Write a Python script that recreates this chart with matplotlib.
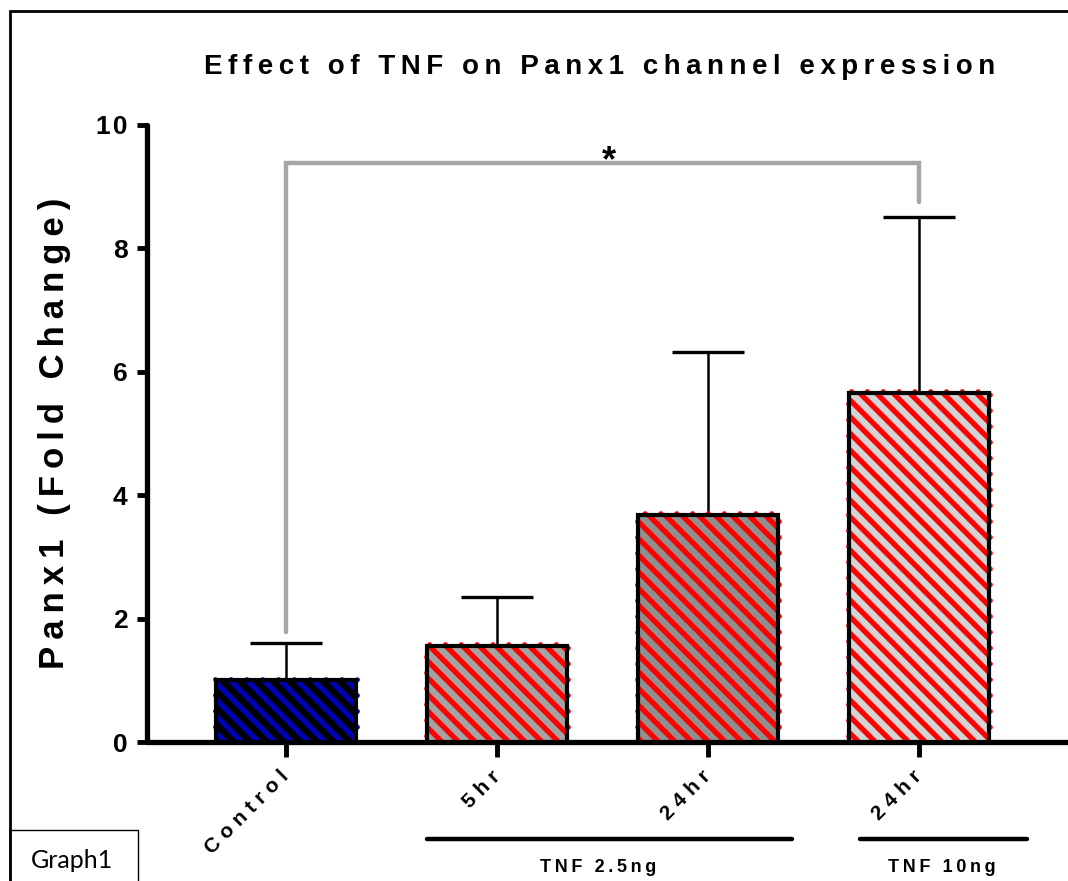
import matplotlib
matplotlib.use("Agg")
import matplotlib.pyplot as plt
from matplotlib.patches import Rectangle

# ---------------------------------------------------------
# Data
# ---------------------------------------------------------
categories = ["Control", "5hr", "24hr", "24hr"]
fold_change = [1.0, 1.56, 3.68, 5.66]
sem_upper = [0.60, 0.79, 2.64, 2.85]
groups = ["TNF 2.5ng", "TNF 10ng"]
sig_label = "*"
sig_pair = (0, 3)
sig_left_end = 1.78
sig_top = 9.38
sig_right_end = 8.75

fill_colors = ["#000000", "#a3a3a3", "#8f8f8f", "#d4d4d4"]
hatch_colors = ["#0000b4", "#ff0000", "#ff0000", "#ff0000"]

FONT = ["Liberation Sans", "DejaVu Sans"]
plt.rcParams["font.family"] = FONT
plt.rcParams["hatch.linewidth"] = 3.8


def spaced(s, gap="\u2009"):
    return gap.join(s)


# ---------------------------------------------------------
# Figure / axes
# ---------------------------------------------------------
fig = plt.figure(figsize=(10.68, 8.81), dpi=100)
ax = fig.add_axes([147 / 1068, 139 / 881, 921 / 1068, 617 / 881])

x = list(range(len(categories)))
w = 0.66

# error bars (upper only), behind bars
ax.errorbar(x, fold_change, yerr=[[0] * len(x), sem_upper], fmt="none",
            ecolor="black", elinewidth=1.8, capsize=26, capthick=2.4, zorder=1)

# dotted coloured outline
ax.bar(x, [v + 0.045 for v in fold_change], width=w + 0.014, bottom=-0.02,
       facecolor="none", edgecolor=hatch_colors, linewidth=3.4,
       linestyle=(0, (0.05, 3.3)), capstyle="round", zorder=2)
# filled + hatched body
ax.bar(x, fold_change, width=w, color=fill_colors, edgecolor=hatch_colors,
       linewidth=0, hatch="\\\\", zorder=3)
# black frame
ax.bar(x, fold_change, width=w, facecolor="none", edgecolor="black",
       linewidth=3.0, zorder=4)

ax.set_xlim(-139 / 211, 782 / 211)
ax.set_ylim(0, 10)

for s in ["top", "right"]:
    ax.spines[s].set_visible(False)
for s in ["left", "bottom"]:
    ax.spines[s].set_linewidth(3.8)
    ax.spines[s].set_capstyle("round")

ax.set_yticks([0, 2, 4, 6, 8, 10])
ax.set_yticklabels([spaced(str(t), "\u200a") for t in [0, 2, 4, 6, 8, 10]],
                   fontsize=19, fontweight="bold")
ax.tick_params(axis="y", length=7, width=3.5, pad=7)
ax.set_xticks(x)
ax.set_xticklabels([spaced(c, "\u2009\u200a") for c in categories],
                   rotation=45, ha="right", va="center",
                   rotation_mode="anchor", fontsize=15, fontweight="bold")
ax.tick_params(axis="x", length=11, width=3.5, pad=12)

ax.set_ylabel(spaced("Panx1 (Fold Change)"), fontsize=25, fontweight="bold",
              labelpad=18)

# significance bracket
a, b = sig_pair
ax.plot([a, a, b, b], [sig_left_end, sig_top, sig_top, sig_right_end],
        color="#a6a6a6", linewidth=3.2,
        solid_capstyle="round", solid_joinstyle="miter", zorder=0)
ax.text(1.53, 9.40, sig_label, fontsize=26, fontweight="bold",
        ha="center", va="center")

# title
fig.text(600 / 1068, 1 - 67 / 881, spaced("Effect of TNF on Panx1 channel expression"),
         fontsize=20, fontweight="bold", ha="center", va="center")

# group lines and labels (figure pixel space)
group_spans = [(427, 792, 598), (860, 1027, 942)]
for (x0, x1, xc), g in zip(group_spans, groups):
    fig.add_artist(plt.Line2D([x0 / 1068, x1 / 1068], [1 - 839 / 881] * 2,
                              color="black", linewidth=3.2,
                              solid_capstyle="round"))
    fig.text(xc / 1068, 1 - 867 / 881, spaced(g), fontsize=13,
             fontweight="bold", ha="center", va="center")

# outer frame and "Graph1" tag
fig.add_artist(Rectangle((10 / 1068, -0.1), 1.2, 1.1 - 11 / 881,
                         transform=fig.transFigure, fill=False,
                         edgecolor="black", linewidth=2))
fig.add_artist(Rectangle((10 / 1068, -0.02), 128 / 1068, 0.02 + 51 / 881,
                         transform=fig.transFigure, fill=False,
                         edgecolor="black", linewidth=1))
fig.text(72 / 1068, 1 - 860 / 881, "Graph1", fontsize=18, family=["Lato", "DejaVu Sans"],
         ha="center", va="center")

fig.savefig("out.png", dpi=100)
